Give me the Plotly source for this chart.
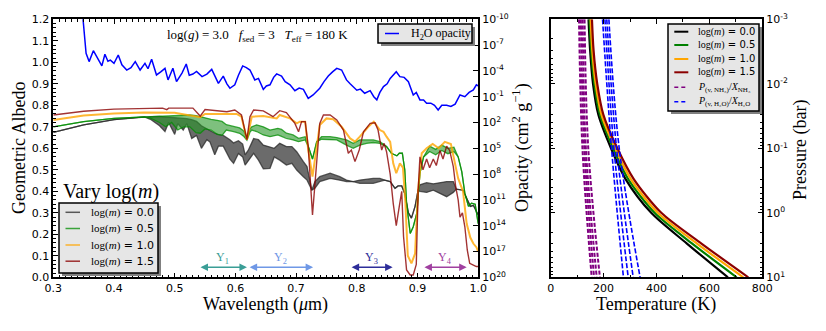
import plotly.graph_objects as go

W, H = 826, 331

# ---------------- data: left panel ----------------
gray_wl = [0.30,0.35,0.40,0.45,0.46,0.475,0.484,0.49,0.50,0.505,0.514,0.52,0.528,0.536,0.544,0.553,0.558,0.566,0.572,0.580,
           0.591,0.597,0.605,0.612,0.616,0.621,0.630,0.638,0.646,0.657,0.664,0.673,0.684,0.693,0.701,0.712,0.718,0.726,0.731,0.739,
           0.756,0.772,0.783,0.794,0.805,0.827,0.838,0.846,0.855,0.863,0.868,0.874,0.879,0.885,0.890,0.896,0.901,0.904,0.915,0.926,
           0.937,0.948,0.959,0.964,0.975,0.981,0.987,0.992,1.0]
gray_hi = [.674,.709,.733,.746,.747,.748,.746,.745,.744,.742,.740,.738,.733,.725,.705,.690,.680,.670,.665,.660,
           .640,.625,.635,.620,.570,.590,.645,.640,.615,.608,.600,.623,.608,.608,.584,.538,.515,.406,.445,.468,
           .484,.468,.452,.445,.452,.460,.460,.452,.445,.414,.425,.425,.390,.300,.275,.330,.405,.430,.440,.435,
           .440,.445,.445,.410,.405,.370,.330,.335,.290]
gray_lo = [.674,.709,.733,.746,.735,.705,.678,.720,.665,.715,.685,.715,.646,.660,.600,.640,.630,.570,.610,.610,
           .550,.530,.576,.560,.522,.540,.577,.545,.505,.507,.560,.545,.522,.530,.499,.468,.452,.406,.414,.445,
           .460,.452,.445,.445,.437,.437,.445,.452,.445,.414,.425,.425,.390,.300,.275,.330,.405,.400,.395,.405,
           .390,.375,.395,.410,.405,.370,.330,.335,.290]

green_wl = [0.30,0.35,0.40,0.45,0.46,0.475,0.485,0.495,0.505,0.515,0.525,0.535,0.542,0.55,0.56,0.57,0.578,0.585,0.597,0.607,
            0.614,0.619,0.624,0.627,0.635,0.646,0.657,0.67,0.676,0.684,0.695,0.704,0.715,0.720,0.727,0.734,0.742,0.756,0.767,0.783,
            0.794,0.805,0.816,0.827,0.838,0.849,0.857,0.866,0.870,0.875,0.879,0.882,0.888,0.893,0.899,0.904,0.910,0.92,0.93,0.94,
            0.95,0.96,0.967,0.973,0.978,0.984,0.989,0.995,1.0]
green_hi = [.700,.724,.739,.746,.748,.750,.752,.752,.753,.754,.755,.752,.747,.740,.735,.730,.725,.710,.700,.695,
            .680,.650,.690,.700,.709,.700,.685,.693,.688,.670,.662,.646,.654,.608,.550,.631,.654,.654,.650,.639,
            .623,.639,.639,.639,.631,.608,.577,.565,.577,.577,.500,.344,.204,.235,.300,.484,.560,.610,.595,.615,
            .600,.605,.560,.490,.390,.330,.345,.340,.250]
green_lo = [.700,.724,.739,.746,.740,.720,.700,.720,.685,.700,.700,.673,.670,.690,.685,.665,.660,.685,.678,.670,
            .655,.638,.675,.685,.678,.662,.654,.662,.655,.646,.639,.631,.639,.608,.550,.631,.642,.639,.639,.615,
            .600,.615,.623,.627,.623,.608,.577,.565,.577,.577,.500,.344,.204,.235,.300,.484,.560,.585,.570,.590,
            .575,.585,.560,.490,.390,.330,.345,.340,.250]

orange_wl = [0.30,0.35,0.40,0.45,0.50,0.542,0.55,0.575,0.602,0.610,0.619,0.627,0.646,0.668,0.673,0.690,0.701,0.706,0.715,0.720,
             0.727,0.734,0.739,0.750,0.761,0.775,0.789,0.797,0.805,0.819,0.828,0.838,0.844,0.849,0.855,0.860,0.865,0.871,0.876,0.880,
             0.884,0.890,0.896,0.901,0.907,0.915,0.925,0.935,0.945,0.955,0.962,0.967,0.975,0.981,0.987,0.992,0.997,1.0]
orange_al = [.732,.752,.762,.766,.765,.745,.760,.760,.760,.747,.640,.747,.750,.739,.755,.739,.716,.724,.724,.592,
             .468,.608,.708,.739,.735,.700,.646,.631,.654,.700,.724,.685,.677,.654,.630,.530,.484,.530,.510,.350,
             .100,.065,.110,.406,.577,.600,.620,.600,.630,.620,.530,.460,.400,.250,.185,.157,.140,.120]

red_wl = [0.30,0.35,0.40,0.45,0.48,0.487,0.49,0.53,0.542,0.55,0.575,0.586,0.599,0.610,0.619,0.624,0.630,0.646,0.662,0.673,
          0.684,0.698,0.704,0.709,0.715,0.720,0.727,0.734,0.739,0.745,0.756,0.767,0.778,0.786,0.791,0.797,0.804,0.811,0.822,0.830,
          0.835,0.841,0.845,0.849,0.855,0.860,0.865,0.870,0.874,0.877,0.882,0.888,0.893,0.898,0.901,0.904,0.909,0.915,0.920,0.926,
          0.931,0.937,0.942,0.948,0.953,0.959,0.963,0.967,0.970,0.974,0.978,0.982,0.986,0.992,0.997,1.0]
red_al = [.755,.772,.782,.786,.787,.780,.787,.787,.750,.780,.775,.770,.778,.755,.640,.747,.778,.774,.747,.775,
          .766,.716,.677,.724,.724,.608,.290,.530,.716,.755,.755,.732,.685,.577,.592,.538,.592,.677,.716,.719,
          .685,.592,.623,.584,.480,.344,.240,.330,.400,.190,.034,.011,.011,.060,.400,.560,.500,.550,.510,.550,
          .520,.590,.550,.610,.590,.515,.420,.360,.280,.300,.235,.127,.065,.057,.050,.050]

# H2O opacity: wavelength and log10(opacity / cm^2 g^-1)
h2o_wl = [0.340,0.349,0.354,0.359,0.366,0.373,0.380,0.385,0.390,0.394,0.400,0.407,0.413,0.421,0.428,0.435,0.443,0.451,0.456,0.462,
          0.470,0.477,0.484,0.489,0.497,0.503,0.512,0.519,0.524,0.530,0.536,0.545,0.553,0.561,0.567,0.572,0.580,0.586,0.591,0.599,
          0.605,0.612,0.618,0.624,0.632,0.638,0.646,0.651,0.657,0.663,0.668,0.676,0.682,0.690,0.698,0.705,0.712,0.720,0.728,0.739,
          0.746,0.753,0.760,0.767,0.775,0.783,0.789,0.794,0.800,0.806,0.813,0.822,0.828,0.833,0.838,0.844,0.850,0.855,0.860,0.865,
          0.871,0.878,0.885,0.893,0.898,0.904,0.910,0.915,0.922,0.928,0.934,0.940,0.948,0.955,0.962,0.970,0.978,0.985,0.992,0.997,1.0]
h2o_log_opacity = [-13.8,-10.0,-6.05,-5.08,-6.35,-5.5,-4.58,-5.93,-5.13,-5.25,-4.88,-5.85,-4.7,-4.1,-4.38,-5.08,-4.1,-4.88,-4.25,-5.35,
                   -3.53,-3.88,-4.3,-2.95,-4.3,-2.75,-3.75,-4.8,-3.5,-3.63,-3.93,-3.33,-3.63,-4.18,-3.38,-2.55,-3.4,-2.5,-1.98,-2.38,
                   -3.5,-4.58,-4.38,-4.1,-2.95,-3.13,-1.85,-2.25,-2.38,-3.25,-3.65,-3.4,-2.75,-2.38,-1.7,-2.0,-1.85,-0.8,-1.2,-1.98,
                   -2.75,-3.4,-3.88,-4.3,-4.1,-2.95,-2.5,-2.1,-1.75,-1.88,-1.4,-1.7,-1.0,-0.63,-1.5,-2.18,-2.5,-3.13,-3.5,-3.9,
                   -3.33,-3.25,-2.75,-1.2,-1.5,-0.63,-0.63,-0.25,-0.25,0.0,0.55,0.0,0.0,0.13,-0.13,-1.2,-1.0,-1.5,-1.78,-2.38,-2.25]

# ---------------- data: right panel ----------------
p_levels = [1e-3, 3e-3, 1e-2, 3e-2, 1e-1, 3e-1, 1.0, 3.0, 10.0]
t_m00 = [143, 149, 160, 180, 228, 283, 380, 515, 670]
t_m05 = [147, 153, 165, 186, 236, 293, 393, 535, 703]
t_m10 = [151, 157, 170, 192, 244, 303, 405, 553, 728]
t_m15 = [156, 162, 176, 199, 252, 314, 418, 570, 747]

cond_p = [1e-3, 1e-1, 10.0]
nh3_curves = [[107, 120, 155], [114, 127, 164], [121, 133, 174], [128, 142, 186]]
h2o_curves = [[196, 230, 275], [205, 239, 293], [212, 249, 312], [220, 259, 338]]

mass_labels = ["0.0", "0.5", "1.0", "1.5"]

# ---------------- figure ----------------
fig = go.Figure()
SERIF = "Liberation Serif"
SANS = "DejaVu Sans"

def leglabel(v):
    return f'<span style="font-family:{SERIF}">log(<i>m</i>)</span> = {v}'

GRAY_L, GRAY_F = "rgba(40,40,40,0.75)", "rgba(70,70,70,0.8)"
GREEN_L, GREEN_F = "rgba(0,140,0,0.75)", "rgba(40,150,40,0.6)"
ORANGE_L = "rgba(255,165,0,0.8)"
RED_L = "rgba(139,0,0,0.8)"

def band(wl, hi, lo, lc, fc):
    fig.add_trace(go.Scatter(x=list(wl) + list(wl)[::-1], y=list(hi) + list(lo)[::-1], fill="toself",
                             fillcolor=fc, mode="lines", line=dict(width=0), hoverinfo="skip"))
    fig.add_trace(go.Scatter(x=wl, y=lo, mode="lines", line=dict(color=lc, width=1.3)))
    fig.add_trace(go.Scatter(x=wl, y=hi, mode="lines", line=dict(color=lc, width=1.3)))

band(gray_wl, gray_hi, gray_lo, GRAY_L, GRAY_F)
band(green_wl, green_hi, green_lo, GREEN_L, GREEN_F)
fig.add_trace(go.Scatter(x=orange_wl, y=orange_al, mode="lines", line=dict(color=ORANGE_L, width=2)))
fig.add_trace(go.Scatter(x=red_wl, y=red_al, mode="lines", line=dict(color=RED_L, width=1.4)))

fig.add_trace(go.Scatter(x=h2o_wl, y=[10 ** v for v in h2o_log_opacity], yaxis="y2", mode="lines",
                         line=dict(color="#0000ff", width=1.5)))

# right panel
tp_colors = ["black", "#008000", "#ffa500", "#8b0000"]
for tcur, col in zip([t_m00, t_m05, t_m10, t_m15], tp_colors):
    fig.add_trace(go.Scatter(x=tcur, y=p_levels, xaxis="x3", yaxis="y3", mode="lines",
                             line=dict(color=col, width=2.2, shape="spline", smoothing=0.8)))
for tcur in nh3_curves:
    fig.add_trace(go.Scatter(x=tcur, y=cond_p, xaxis="x3", yaxis="y3", mode="lines",
                             line=dict(color="#800080", width=2, dash="4px,2px", shape="spline")))
for tcur in h2o_curves:
    fig.add_trace(go.Scatter(x=tcur, y=cond_p, xaxis="x3", yaxis="y3", mode="lines",
                             line=dict(color="#0000ff", width=1.6, dash="5px,2px", shape="spline")))

# ---------------- layout ----------------
L0, L1 = 53.3 / W, 478.2 / W
R0, R1 = 550.7 / W, 762.3 / W
B, T = 1 - 277.3 / H, 1 - 19.3 / H
tickfont = dict(family=SANS, size=11, color="black")
common = dict(showline=True, linecolor="black", linewidth=1.5, ticks="inside", tickcolor="black",
              showgrid=False, zeroline=False, tickfont=tickfont)

op_vals = [1e-10, 1e-7, 1e-4, 1e-1, 1e2, 1e5, 1e8, 1e11, 1e14, 1e17, 1e20]
op_text = ["10<sup>%d</sup>" % e for e in [-10, -7, -4, -1, 2, 5, 8, 11, 14, 17, 20]]
p_vals = [1e-3, 1e-2, 1e-1, 1, 10]
p_text = ["10<sup>-3</sup>", "10<sup>-2</sup>", "10<sup>-1</sup>", "10<sup>0</sup>", "10<sup>1</sup>"]

fig.update_layout(
    width=W, height=H, margin=dict(l=0, r=0, t=0, b=0, autoexpand=False),
    paper_bgcolor="white", plot_bgcolor="white", showlegend=False,
    xaxis=dict(domain=[L0, L1], range=[0.3, 1.0], dtick=0.1, tickformat=".1f", mirror="ticks", ticklen=5,
               minor=dict(dtick=0.01, ticks="inside", ticklen=2.5, tickcolor="black"), anchor="y", **common),
    yaxis=dict(domain=[B, T], range=[0, 1.2], dtick=0.1, tickformat=".1f", ticklen=5,
               minor=dict(dtick=0.02, ticks="inside", ticklen=2.5, tickcolor="black"), anchor="x", **common),
    yaxis2=dict(overlaying="y", side="right", type="log", range=[20, -10], tickvals=op_vals, ticktext=op_text,
                ticklen=5, anchor="x", **common),
    xaxis3=dict(domain=[R0, R1], range=[0, 800], dtick=200, mirror="ticks", ticklen=5,
                minor=dict(dtick=100, ticks="inside", ticklen=2.5, tickcolor="black"), anchor="y3", **common),
    yaxis3=dict(domain=[B, T], type="log", range=[1, -3], side="right", mirror="ticks", tickvals=p_vals,
                ticktext=p_text, ticklen=5, minor=dict(ticks="inside", ticklen=2.5, tickcolor="black", dtick="D1"),
                anchor="x3", **common),
)

ann = []
shapes = []
def txt(x, y, s, size, angle=0, color="black", family=SERIF, xanchor="center"):
    ann.append(dict(x=x / W, y=1 - y / H, xref="paper", yref="paper", text=s, showarrow=False, textangle=angle,
                    font=dict(family=family, size=size, color=color), xanchor=xanchor, yanchor="middle"))

txt(19, 148, "Geometric Albedo", 18, -90)
txt(521, 148, "Opacity (cm<sup>2</sup> g<sup>−1</sup>)", 18, -90)
txt(265, 304, "Wavelength (<i>μ</i>m)", 18)
txt(656, 304, "Temperature (K)", 18)
txt(800, 150, "Pressure (bar)", 18, -90)
txt(257, 36, "log(<i>g</i>) = 3.0   <i>f</i><sub>sed</sub> = 3   <i>T</i><sub>eff</sub> = 180 K", 13)
txt(111, 191, "Vary log(<i>m</i>)", 20)

arrows = [("Υ<sub>1</sub>", 0.540, 0.619, "#3a9e96"),
          ("Υ<sub>2</sub>", 0.621, 0.728, "#6f98e6"),
          ("Υ<sub>3</sub>", 0.789, 0.859, "#2e2e9a"),
          ("Υ<sub>4</sub>", 0.909, 0.981, "#a040a0")]
for lab, a0, a1, col in arrows:
    ann.append(dict(x=a1, y=0.047, ax=a0, ay=0.047, xref="x", yref="y", axref="x", ayref="y", text="",
                    showarrow=True, arrowhead=2, arrowside="end+start", arrowsize=1, arrowwidth=1.5, arrowcolor=col))
    ann.append(dict(x=(a0 + a1) / 2, y=0.088, xref="x", yref="y", text=lab, showarrow=False,
                    font=dict(family=SERIF, size=12, color=col)))

# hand-built legends (box, shadow, sample lines, labels)
def legend_box(x0, y0, x1, y1, rows, lx0, lx1, tx, size):
    shapes.append(dict(type="rect", xref="paper", yref="paper", x0=(x0 + 3) / W, x1=(x1 + 3) / W,
                       y0=1 - (y1 + 3) / H, y1=1 - (y0 + 3) / H, fillcolor="#808080", line=dict(width=0), layer="above"))
    shapes.append(dict(type="rect", xref="paper", yref="paper", x0=x0 / W, x1=x1 / W, y0=1 - y1 / H, y1=1 - y0 / H,
                       fillcolor="#e6e6e6", line=dict(color="black", width=1.5), layer="above"))
    for ry, label, col, wid, dash, fam in rows:
        shapes.append(dict(type="line", xref="paper", yref="paper", x0=lx0 / W, x1=lx1 / W, y0=1 - ry / H, y1=1 - ry / H,
                           line=dict(color=col, width=wid, dash=dash), layer="above"))
        txt(tx, ry, label, size, family=fam, xanchor="left")

legend_box(378, 24, 472, 43, [(33.5, "H<sub>2</sub>O opacity", "#0000ff", 1.5, "solid", SERIF)], 385, 399, 409, 12)
legend_box(59, 203, 158, 273,
           [(212.3, leglabel("0.0"), GRAY_L, 1.5, "solid", SANS),
            (228.5, leglabel("0.5"), GREEN_L, 1.5, "solid", SANS),
            (245.0, leglabel("1.0"), ORANGE_L, 1.5, "solid", SANS),
            (261.2, leglabel("1.5"), RED_L, 1.5, "solid", SANS)], 65.5, 80, 89, 11)
legend_box(668, 24, 759, 111,
           [(31.7, leglabel("0.0"), "black", 2, "solid", SANS),
            (45.0, leglabel("0.5"), "#008000", 2, "solid", SANS),
            (59.0, leglabel("1.0"), "#ffa500", 2, "solid", SANS),
            (72.3, leglabel("1.5"), "#8b0000", 2, "solid", SANS),
            (87.3, "<i>P</i><sub>(v, NH₃)</sub>/<i>X</i><sub>NH₃</sub>", "#800080", 1.5, "4px,3px", SERIF),
            (101.7, "<i>P</i><sub>(v, H₂O)</sub>/<i>X</i><sub>H₂O</sub>", "#0000ff", 1.5, "4px,3px", SERIF)],
           674.3, 688.3, 696, 10)

fig.update_layout(annotations=ann, shapes=shapes)

fig.write_html("out.html", config={"displayModeBar": False},
               post_script="document.body.style.margin='0';document.body.style.overflow='hidden';")
